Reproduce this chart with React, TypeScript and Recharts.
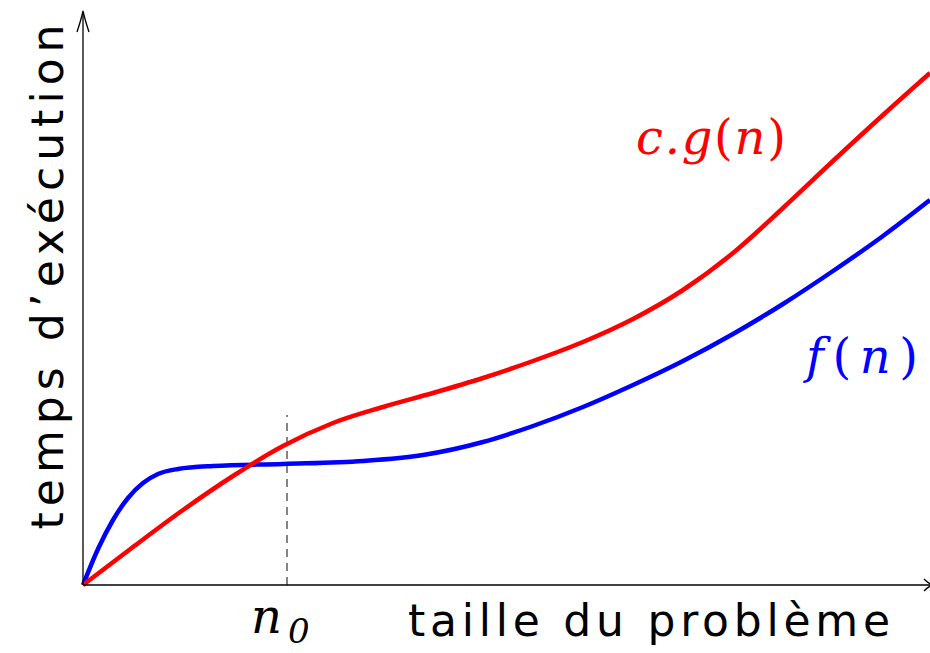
import { LineChart, Line, XAxis, YAxis, ReferenceLine } from 'recharts';

// curve samples (x = problem size, y = running time)
const redX = [0, 50, 100, 150, 200, 250, 300, 350, 400, 450, 500, 550, 600, 650, 700, 750, 800, 847];
const redY = [0, 38, 75, 109, 139, 162, 178, 192, 207, 224, 243, 266, 295, 332, 377, 424, 470, 512];

const blueX = [0, 15, 30, 45, 60, 75, 95, 130, 200, 280, 340, 400, 450, 500, 550, 600, 650, 700, 750, 800, 847];
const blueY = [0, 36, 65, 87, 102, 111, 116, 119, 121, 124, 130, 143, 159, 178, 200, 224, 251, 281, 314, 349, 385];

const n0 = 204;
const n0Top = 170;

const cg = redX.map((x, i) => ({ x, y: redY[i] }));
const fn = blueX.map((x, i) => ({ x, y: blueY[i] }));

const W = 930;
const H = 653;

const mathFont = { fontFamily: 'DejaVu Serif', fontStyle: 'italic' as const, fontSize: 48 };

export default function App() {
    return (
        <div style={{ position: 'absolute', left: 0, top: 0, width: W, height: H, background: '#fff' }}>
            <LineChart width={W} height={H} margin={{ top: 12, right: 0, bottom: 0, left: 0 }}>
                <XAxis
                    type="number"
                    dataKey="x"
                    domain={[0, 847]}
                    height={68}
                    tick={false}
                    tickLine={false}
                    axisLine={{ stroke: '#000', strokeWidth: 1.3 }}
                />
                <YAxis
                    type="number"
                    dataKey="y"
                    domain={[0, 573]}
                    width={83}
                    tick={false}
                    tickLine={false}
                    axisLine={{ stroke: '#000', strokeWidth: 1.3 }}
                />
                <ReferenceLine
                    segment={[{ x: n0, y: 0 }, { x: n0, y: n0Top }]}
                    stroke="#444"
                    strokeWidth={1.3}
                    strokeDasharray="8 6"
                />
                <Line data={fn} dataKey="y" type="monotone" stroke="#0000ff" strokeWidth={4.5} dot={false} isAnimationActive={false} />
                <Line data={cg} dataKey="y" type="monotone" stroke="#ff0000" strokeWidth={4.5} dot={false} isAnimationActive={false} />
            </LineChart>

            {/* labels and arrow heads */}
            <svg width={W} height={H} style={{ position: 'absolute', left: 0, top: 0, pointerEvents: 'none' }}>
                <path d="M77 32 Q81 20 83 11 Q85 20 89 32" fill="none" stroke="#000" strokeWidth={1.3} />
                <path d="M924 579 Q928 583 932 585 Q928 587 924 591" fill="none" stroke="#000" strokeWidth={1.3} />

                <text
                    transform="translate(63 277) rotate(-90)"
                    textAnchor="middle"
                    fontFamily="DejaVu Sans"
                    fontSize={44}
                    textLength={505}
                    lengthAdjust="spacing"
                >
                    temps d’exécution
                </text>
                <text x={408} y={636} fontFamily="DejaVu Sans" fontSize={44} textLength={482} lengthAdjust="spacing">
                    taille du problème
                </text>

                <text x={251} y={633} {...mathFont}>
                    n<tspan x={288} y={643} fontSize={34}>0</tspan>
                </text>

                <text x={636} y={154} fill="#ff0000" {...mathFont} textLength={150} lengthAdjust="spacing">
                    c.g<tspan fontStyle="normal">(</tspan>n<tspan fontStyle="normal">)</tspan>
                </text>
                <text x={806} y={373} fill="#0000ff" {...mathFont} textLength={112} lengthAdjust="spacing">
                    f<tspan fontStyle="normal">(</tspan>n<tspan fontStyle="normal">)</tspan>
                </text>
            </svg>
        </div>
    );
}
